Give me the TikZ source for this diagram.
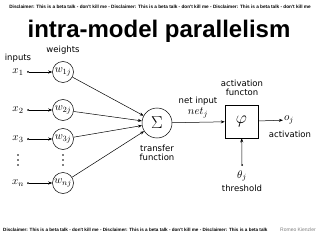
\documentclass[tikz,border=0pt]{standalone}
\usepackage{fontspec}
\setmainfont{DejaVu Sans}
\newfontfamily\titlefont{Liberation Sans}
\usepackage{amsmath}
\usetikzlibrary{arrows.meta}

\tikzset{
  label/.style={font=\fontsize{8.5}{9.5}\selectfont, align=center, inner sep=0pt},
  var/.style={font=\fontsize{11}{12}\selectfont, inner sep=1pt},
  weight/.style={draw, circle, minimum size=21pt, inner sep=0pt, line width=0.5pt, font=\fontsize{11}{12}\selectfont},
  dotpt/.style={circle, fill, inner sep=0pt, minimum size=2pt},
  conn/.style={-{Stealth[length=4pt,width=3pt]}, line width=0.5pt},
  disclaimer/.style={font=\titlefont\bfseries\fontsize{4.7}{5}\selectfont, inner sep=0pt}
}

\begin{document}
\begin{tikzpicture}[x=1pt, y=-1pt]
\useasboundingbox (0,0) rectangle (320,240);
\fill[white] (0,0) rectangle (320,240);

% Header and title
\node[disclaimer] (topnote) at (160,7) {Disclaimer: This is a beta talk - don't kill me - Disclaimer: This is a beta talk - don't kill me - Disclaimer: This is a beta talk - don't kill me};
\node[font=\titlefont\bfseries\fontsize{24}{26}\selectfont, inner sep=0pt] (title) at (159,31) {intra-model parallelism};

% Column labels
\node[label] (inputs) at (18,58) {inputs};
\node[label] (weights) at (63,50) {weights};

% Inputs and weights
\foreach \i/\y in {1/72, 2/110, 3/139, n/183} {
  \node[var] (x\i) at (18,\y) {$x_{\i}$};
  \node[dotpt] (d\i) at (28,\y) {};
  \node[weight] (w\i) at (63,\y) {$w_{\i j}$};
  \draw[conn] (d\i) -- (w\i);
}
% vertical dots
\foreach \yy in {155,160,165} {
  \fill (18,\yy) circle (0.9);
  \fill (63,\yy) circle (0.9);
}

% Transfer function
\node[weight, minimum size=30pt, font=\fontsize{16}{18}\selectfont] (sum) at (157,123) {$\Sigma$};
\foreach \i in {1,2,3,n} {
  \draw[conn] (w\i) -- (sum);
}
\node[label] (transfer) at (157,153) {transfer\\function};

% Activation function
\node[draw, line width=0.5pt, minimum size=33pt, inner sep=0pt, font=\fontsize{19}{20}\selectfont] (phi) at (241.5,121.5) {$\varphi$};
\draw[conn] (sum) -- (phi);
\node[label] (netin) at (198,101) {net input};
\node[var] (net) at (198,113) {$net_j$};
\node[label] (actfn) at (242,88) {activation\\functon};

% Output
\node[var] (oj) at (289,120) {$o_j$};
\draw[conn] (phi) -- (oj);
\node[label] (activation) at (290,134) {activation};

% Threshold
\node[dotpt] (td) at (242,165) {};
\draw[conn] (td) -- (phi);
\node[var] (theta) at (242,176) {$\theta_j$};
\node[label] (threshold) at (242,188) {threshold};

% Footer
\node[disclaimer, font=\titlefont\bfseries\fontsize{4.6}{6}\selectfont, anchor=west] (botnote) at (3,230) {Disclaimer: This is a beta talk - don't kill me - Disclaimer: This is a beta talk - don't kill me - Disclaimer: This is a beta talk};
\node[font=\titlefont\fontsize{5}{6}\selectfont, text=gray, inner sep=0pt] (author) at (298,230) {Romeo Kienzler};
\end{tikzpicture}
\end{document}
